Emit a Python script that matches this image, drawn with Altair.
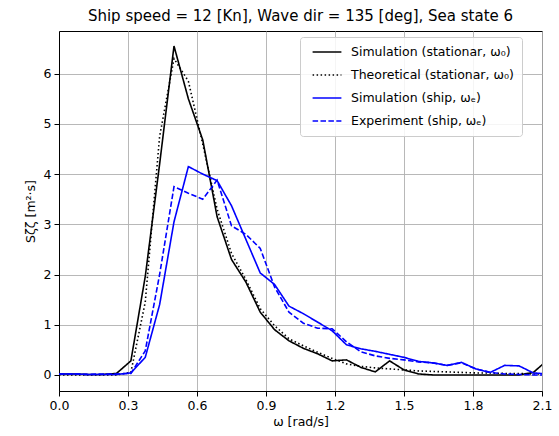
import altair as alt
import pandas as pd

omega = [0.0, 0.0625, 0.125, 0.1875, 0.25, 0.3125, 0.375, 0.4375, 0.5, 0.5625,
         0.625, 0.6875, 0.75, 0.8125, 0.875, 0.9375, 1.0, 1.0625, 1.125, 1.1875,
         1.25, 1.3125, 1.375, 1.4375, 1.5, 1.5625, 1.625, 1.6875, 1.75, 1.8125,
         1.875, 1.9375, 2.0, 2.0625, 2.125]

sim_stat = [0.02, 0.02, 0.01, 0.01, 0.03, 0.28, 1.96, 4.2, 6.55, 5.5,
            4.68, 3.15, 2.3, 1.85, 1.25, 0.9, 0.68, 0.53, 0.42, 0.28,
            0.3, 0.15, 0.06, 0.28, 0.1, 0.02, 0.0, 0.0, 0.0, 0.0,
            0.0, 0.0, 0.0, 0.05, 0.3]

theo_stat = [0.0, 0.0, 0.0, 0.0, 0.0, 0.05, 1.45, 4.75, 6.3, 5.85,
             4.6, 3.3, 2.42, 1.9, 1.32, 0.98, 0.72, 0.58, 0.45, 0.33,
             0.22, 0.17, 0.14, 0.12, 0.1, 0.08, 0.07, 0.06, 0.05, 0.04,
             0.04, 0.03, 0.03, 0.02, 0.02]

sim_ship = [0.02, 0.02, 0.01, 0.01, 0.01, 0.04, 0.35, 1.4, 3.05, 4.15,
            4.0, 3.87, 3.37, 2.7, 2.03, 1.8, 1.37, 1.22, 1.05, 0.88,
            0.6, 0.52, 0.47, 0.41, 0.35, 0.27, 0.24, 0.19, 0.25, 0.12,
            0.05, 0.19, 0.18, 0.04, 0.02]

exp_ship = [0.02, 0.02, 0.01, 0.02, 0.02, 0.03, 0.48, 2.0, 3.75, 3.62,
            3.5, 3.88, 2.97, 2.8, 2.52, 1.75, 1.25, 1.03, 0.93, 0.92,
            0.66, 0.46, 0.38, 0.33, 0.3, 0.26, 0.24, 0.19, 0.24, 0.12,
            0.05, 0.02, 0.01, 0.0, 0.0]

series_names = ["Simulation (stationar, ω₀)", "Theoretical (stationar, ω₀)",
                "Simulation (ship, ωₑ)", "Experiment (ship, ωₑ)"]
series_values = [sim_stat, theo_stat, sim_ship, exp_ship]
series_colors = ["#000000", "#000000", "#0000ff", "#0000ff"]
series_dashes = [[1, 0], [1.5, 2.5], [1, 0], [5.5, 2.4]]

x_ticks = [0.0, 0.3, 0.6, 0.9, 1.2, 1.5, 1.8, 2.1]
y_ticks = [0, 1, 2, 3, 4, 5, 6]

rows = []
for name, vals in zip(series_names, series_values):
    for i, (w, s) in enumerate(zip(omega, vals)):
        rows.append({"omega": w, "S": s, "series": name, "order": i})
df = pd.DataFrame(rows)

FONT = "DejaVu Sans"

chart = alt.Chart(df).mark_line(clip=True, strokeWidth=1.6).encode(
    x=alt.X("omega:Q", title="ω [rad/s]",
            scale=alt.Scale(domain=[0.0, 2.1], nice=False, zero=False),
            axis=alt.Axis(values=x_ticks, format=".1f")),
    y=alt.Y("S:Q", title="Sζζ [m²·s]",
            scale=alt.Scale(domain=[-0.32, 6.85], nice=False, zero=False),
            axis=alt.Axis(values=y_ticks, format="d")),
    color=alt.Color("series:N", sort=series_names,
                    scale=alt.Scale(domain=series_names, range=series_colors),
                    legend=alt.Legend(title=None, orient="none", legendX=241, legendY=6)),
    strokeDash=alt.StrokeDash("series:N", sort=series_names,
                              scale=alt.Scale(domain=series_names, range=series_dashes),
                              legend=alt.Legend(title=None, orient="none", legendX=241, legendY=6)),
    order="order:Q",
).properties(
    width=483, height=360,
    title=alt.Title("Ship speed = 12 [Kn], Wave dir = 135 [deg], Sea state 6",
                    font=FONT, fontSize=15, fontWeight="normal", anchor="middle", offset=7),
    autosize=alt.AutoSizeParams(type="none"),
    padding={"left": 59, "top": 31, "right": 17, "bottom": 45},
).configure_view(
    stroke="black", strokeWidth=1
).configure_axis(
    labelFont=FONT, labelFontSize=12.5, labelColor="black",
    titleFont=FONT, titleFontSize=12.5, titleFontWeight="normal", titleColor="black",
    grid=True, gridColor="#b0b0b0", gridWidth=0.9,
    domainColor="black", domainWidth=1,
    tickColor="black", tickSize=5, tickWidth=1, labelPadding=3,
).configure_axisX(
    titlePadding=4, labelFlush=False,
).configure_axisY(
    titlePadding=6,
).configure_legend(
    fillColor="rgba(255,255,255,0.85)", strokeColor="#cccccc", cornerRadius=3,
    padding=8, symbolType="M-0.4,0L4.4,0", symbolSize=144, symbolStrokeWidth=1.6,
    labelOffset=29, rowPadding=9, labelFont=FONT, labelFontSize=12.5, labelColor="black",
    labelLimit=400,
)

chart.save("out.html", embed_options={"renderer": "svg", "actions": False})
